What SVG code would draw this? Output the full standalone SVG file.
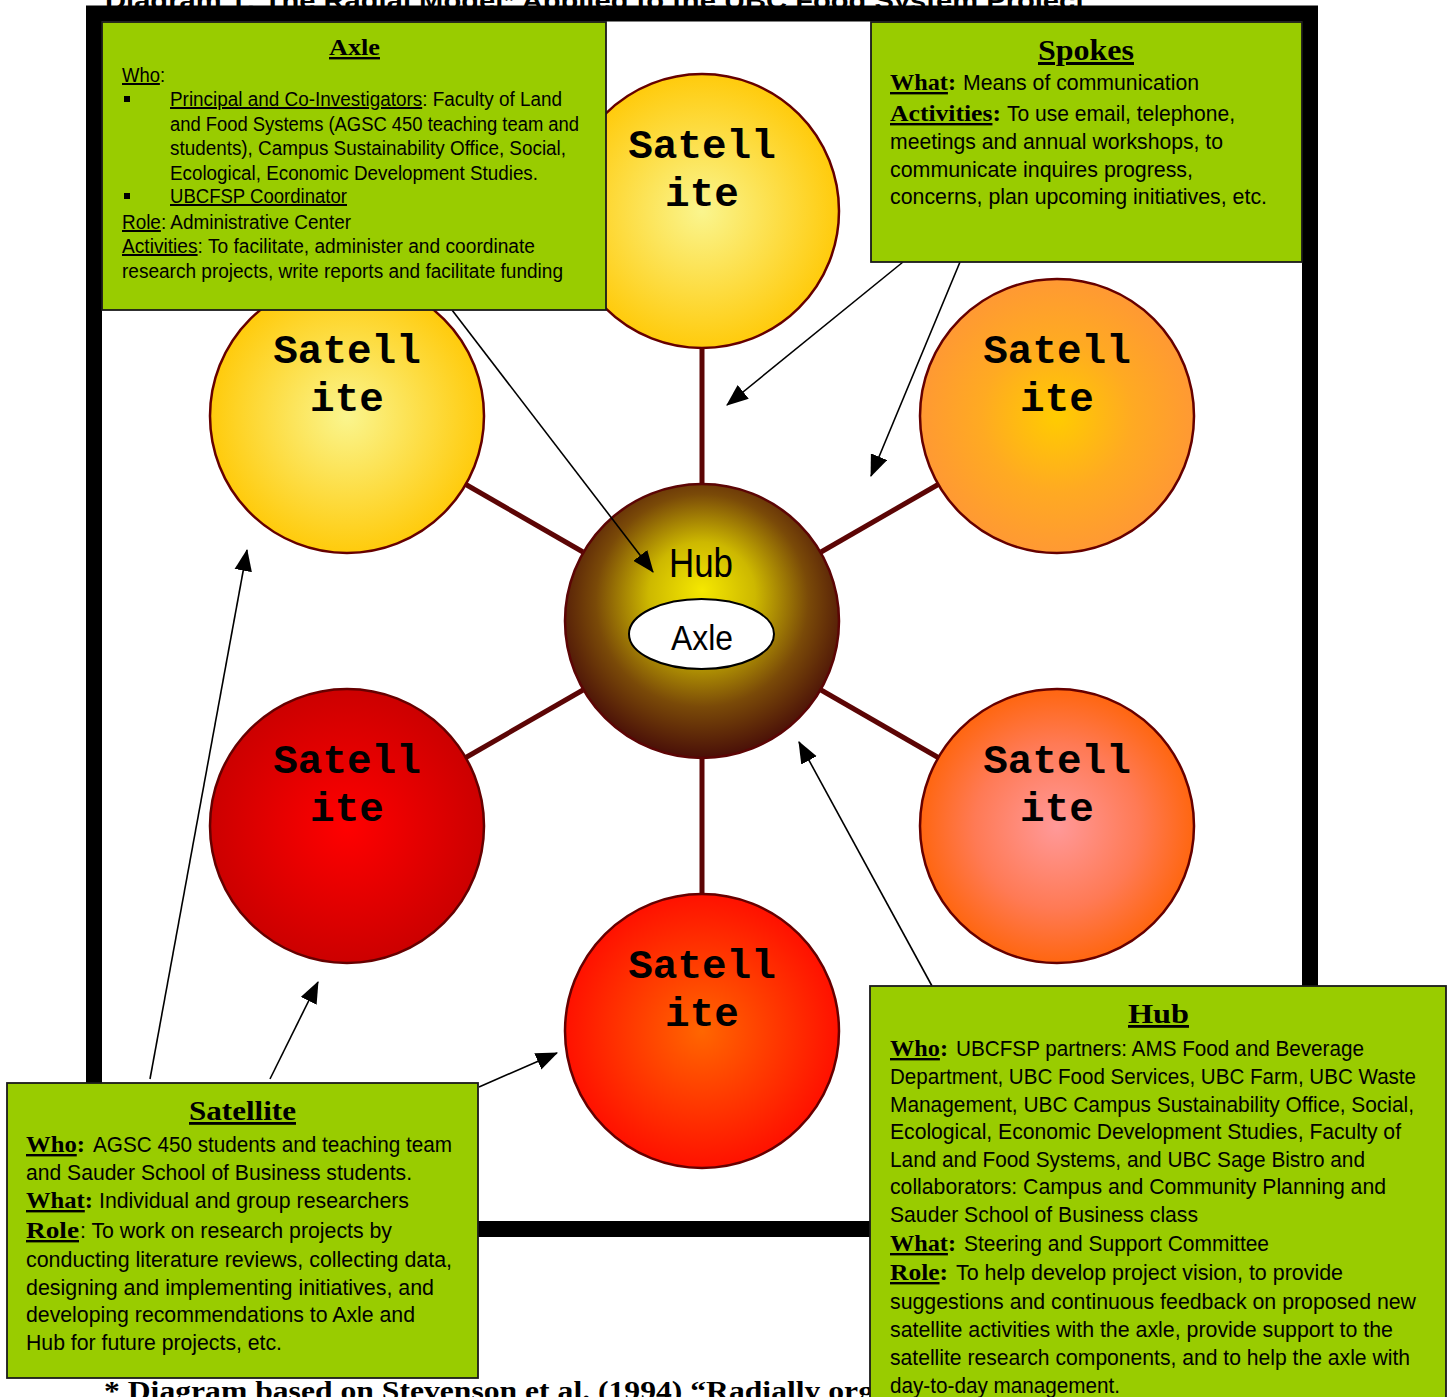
<svg xmlns="http://www.w3.org/2000/svg" width="1450" height="1397" viewBox="0 0 1450 1397">
<style>
.n{font-family:"Liberation Sans Narrow","Liberation Sans",Arial,sans-serif;fill:#000}
.s{font-family:"Liberation Serif","Times New Roman",serif;font-weight:bold;fill:#000}
.m{font-family:"Liberation Mono","Courier New",monospace;font-weight:bold;font-size:41px;text-anchor:middle;fill:#000}
.u{text-decoration:underline}
.box{fill:#99CC00;stroke:#1a1a1a;stroke-width:1.8}
.sat{stroke:#660000;stroke-width:2.5}
.spoke{stroke:#5C0505;stroke-width:5}
.arr{stroke:#000;stroke-width:1.6;fill:none;marker-end:url(#ah)}
.a20{font-size:20px}
.a22{font-size:22px}
</style>
<defs>
<marker id="ah" viewBox="0 0 20 16" refX="19" refY="8" markerWidth="22" markerHeight="18" markerUnits="userSpaceOnUse" orient="auto"><path d="M0,0 L20,8 L0,16 z" fill="#000"/></marker>
<radialGradient id="gY"><stop offset="0" stop-color="#FAF58E"/><stop offset="1" stop-color="#FFCB0C"/></radialGradient>
<radialGradient id="gO"><stop offset="0" stop-color="#FFCC00"/><stop offset="0.55" stop-color="#FFAA22"/><stop offset="1" stop-color="#FF9933"/></radialGradient>
<radialGradient id="gR"><stop offset="0" stop-color="#FF0000"/><stop offset="1" stop-color="#CC0000"/></radialGradient>
<radialGradient id="gP"><stop offset="0" stop-color="#FF9999"/><stop offset="0.6" stop-color="#FF7A55"/><stop offset="1" stop-color="#FF6610"/></radialGradient>
<radialGradient id="gB"><stop offset="0" stop-color="#FF6600"/><stop offset="1" stop-color="#FF1100"/></radialGradient>
<radialGradient id="gH" gradientUnits="userSpaceOnUse" cx="702" cy="605" r="152" fx="702" fy="590"><stop offset="0" stop-color="#F5E800"/><stop offset="0.35" stop-color="#CDB800"/><stop offset="0.7" stop-color="#7A4A08"/><stop offset="1" stop-color="#4A1008"/></radialGradient>
</defs>

<text class="n" x="105" y="9" font-size="24" font-weight="bold" textLength="980" lengthAdjust="spacingAndGlyphs">Diagram 1: The Radial Model* Applied to the UBC Food System Project</text>
<rect id="frame" x="94" y="13.5" width="1216" height="1215.5" fill="none" stroke="#000" stroke-width="16"/>

<g id="spokes">
<line class="spoke" x1="702" y1="348" x2="702" y2="485"/>
<line class="spoke" x1="702" y1="757" x2="702" y2="895"/>
<line class="spoke" x1="465" y1="484" x2="583" y2="552"/>
<line class="spoke" x1="939" y1="484" x2="821" y2="552"/>
<line class="spoke" x1="465" y1="758" x2="583" y2="690"/>
<line class="spoke" x1="939" y1="758" x2="821" y2="690"/>
</g>

<g id="sat-top"><circle class="sat" cx="702" cy="211" r="137" fill="url(#gY)"/><text class="m" x="702" y="158">Satell</text><text class="m" x="702" y="206">ite</text></g>
<g id="sat-ul"><circle class="sat" cx="347" cy="416" r="137" fill="url(#gY)"/><text class="m" x="347" y="363">Satell</text><text class="m" x="347" y="411">ite</text></g>
<g id="sat-ur"><circle class="sat" cx="1057" cy="416" r="137" fill="url(#gO)"/><text class="m" x="1057" y="363">Satell</text><text class="m" x="1057" y="411">ite</text></g>
<g id="sat-ll"><circle class="sat" cx="347" cy="826" r="137" fill="url(#gR)"/><text class="m" x="347" y="773">Satell</text><text class="m" x="347" y="821">ite</text></g>
<g id="sat-lr"><circle class="sat" cx="1057" cy="826" r="137" fill="url(#gP)"/><text class="m" x="1057" y="773">Satell</text><text class="m" x="1057" y="821">ite</text></g>
<g id="sat-bot"><circle class="sat" cx="702" cy="1031" r="137" fill="url(#gB)"/><text class="m" x="702" y="978">Satell</text><text class="m" x="702" y="1026">ite</text></g>

<g id="hub">
<circle cx="702" cy="621" r="137" fill="url(#gH)" stroke="#5C0505" stroke-width="2.5"/>
<text class="n" x="669" y="577" font-size="40" textLength="64" lengthAdjust="spacingAndGlyphs">Hub</text>
<ellipse cx="701.5" cy="634" rx="72.5" ry="35" fill="#fff" stroke="#000" stroke-width="2"/>
<text class="n" x="671" y="650" font-size="35" textLength="62" lengthAdjust="spacingAndGlyphs">Axle</text>
</g>

<g id="connectors">
<line class="arr" x1="452" y1="310" x2="653" y2="572"/>
<line class="arr" x1="903" y1="262" x2="727" y2="405"/>
<line class="arr" x1="960" y1="262" x2="871" y2="476"/>
<line class="arr" x1="150" y1="1079" x2="247" y2="550"/>
<line class="arr" x1="270" y1="1079" x2="318" y2="982"/>
<line class="arr" x1="479" y1="1087" x2="557" y2="1053"/>
<line class="arr" x1="932" y1="986" x2="799" y2="742"/>
</g>

<g id="axle-box">
<rect class="box" x="102" y="22" width="504" height="288"/>
<text class="s u" x="329" y="55" font-size="24" textLength="51" lengthAdjust="spacingAndGlyphs">Axle</text>
<text class="n a20" x="122" y="82" textLength="43" lengthAdjust="spacingAndGlyphs"><tspan class="u">Who</tspan>:</text>
<rect x="124" y="96" width="6" height="6" fill="#000"/>
<text class="n a20" x="170" y="106" textLength="392" lengthAdjust="spacingAndGlyphs"><tspan class="u">Principal and Co-Investigators</tspan>: Faculty of Land</text>
<text class="n a20" x="170" y="131" textLength="409" lengthAdjust="spacingAndGlyphs">and Food Systems (AGSC 450 teaching team and</text>
<text class="n a20" x="170" y="155" textLength="396" lengthAdjust="spacingAndGlyphs">students), Campus Sustainability Office, Social,</text>
<text class="n a20" x="170" y="180" textLength="368" lengthAdjust="spacingAndGlyphs">Ecological, Economic Development Studies.</text>
<rect x="124" y="193" width="6" height="6" fill="#000"/>
<text class="n a20 u" x="170" y="203" textLength="177" lengthAdjust="spacingAndGlyphs">UBCFSP Coordinator</text>
<text class="n a20" x="122" y="229" textLength="229" lengthAdjust="spacingAndGlyphs"><tspan class="u">Role</tspan>: Administrative Center</text>
<text class="n a20" x="122" y="253" textLength="413" lengthAdjust="spacingAndGlyphs"><tspan class="u">Activities</tspan>: To facilitate, administer and coordinate</text>
<text class="n a20" x="122" y="278" textLength="441" lengthAdjust="spacingAndGlyphs">research projects, write reports and facilitate funding</text>
</g>

<g id="spokes-box">
<rect class="box" x="871" y="22" width="431" height="240"/>
<text class="s u" x="1038" y="60" font-size="30" textLength="96" lengthAdjust="spacingAndGlyphs">Spokes</text>
<text class="s" x="890" y="90" font-size="24" textLength="66" lengthAdjust="spacingAndGlyphs"><tspan class="u">What</tspan>:</text>
<text class="n a22" x="963" y="90" textLength="236" lengthAdjust="spacingAndGlyphs">Means of communication</text>
<text class="s" x="890" y="121" font-size="24" textLength="111" lengthAdjust="spacingAndGlyphs"><tspan class="u">Activities</tspan>:</text>
<text class="n a22" x="1007" y="121" textLength="228" lengthAdjust="spacingAndGlyphs">To use email, telephone,</text>
<text class="n a22" x="890" y="149" textLength="333" lengthAdjust="spacingAndGlyphs">meetings and annual workshops, to</text>
<text class="n a22" x="890" y="177" textLength="303" lengthAdjust="spacingAndGlyphs">communicate inquires progress,</text>
<text class="n a22" x="890" y="204" textLength="377" lengthAdjust="spacingAndGlyphs">concerns, plan upcoming initiatives, etc.</text>
</g>

<g id="satellite-box">
<rect class="box" x="7" y="1083" width="471" height="295"/>
<text class="s u" x="189" y="1120" font-size="28" textLength="107" lengthAdjust="spacingAndGlyphs">Satellite</text>
<text class="s" x="26" y="1152" font-size="24" textLength="59" lengthAdjust="spacingAndGlyphs"><tspan class="u">Who</tspan>:</text>
<text class="n a22" x="93" y="1152" textLength="359" lengthAdjust="spacingAndGlyphs">AGSC 450 students and teaching team</text>
<text class="n a22" x="26" y="1180" textLength="386" lengthAdjust="spacingAndGlyphs">and Sauder School of Business students.</text>
<text class="s" x="26" y="1208" font-size="24" textLength="67" lengthAdjust="spacingAndGlyphs"><tspan class="u">What</tspan>:</text>
<text class="n a22" x="99" y="1208" textLength="310" lengthAdjust="spacingAndGlyphs">Individual and group researchers</text>
<text class="s u" x="26" y="1238" font-size="24" textLength="53" lengthAdjust="spacingAndGlyphs">Role</text>
<text class="n a22" x="80" y="1238" textLength="312" lengthAdjust="spacingAndGlyphs">: To work on research projects by</text>
<text class="n a22" x="26" y="1267" textLength="426" lengthAdjust="spacingAndGlyphs">conducting literature reviews, collecting data,</text>
<text class="n a22" x="26" y="1295" textLength="408" lengthAdjust="spacingAndGlyphs">designing and implementing initiatives, and</text>
<text class="n a22" x="26" y="1322" textLength="389" lengthAdjust="spacingAndGlyphs">developing recommendations to Axle and</text>
<text class="n a22" x="26" y="1350" textLength="256" lengthAdjust="spacingAndGlyphs">Hub for future projects, etc.</text>
</g>

<text class="s" x="104" y="1400" font-size="27" textLength="770" lengthAdjust="spacingAndGlyphs">* Diagram based on Stevenson et al. (1994) “Radially org</text>

<g id="hub-box">
<rect class="box" x="870" y="986" width="576" height="430"/>
<text class="s u" x="1128" y="1023" font-size="28" textLength="61" lengthAdjust="spacingAndGlyphs">Hub</text>
<text class="s" x="890" y="1056" font-size="24" textLength="58" lengthAdjust="spacingAndGlyphs"><tspan class="u">Who</tspan>:</text>
<text class="n a22" x="956" y="1056" textLength="408" lengthAdjust="spacingAndGlyphs">UBCFSP partners: AMS Food and Beverage</text>
<text class="n a22" x="890" y="1084" textLength="526" lengthAdjust="spacingAndGlyphs">Department, UBC Food Services, UBC Farm, UBC Waste</text>
<text class="n a22" x="890" y="1112" textLength="524" lengthAdjust="spacingAndGlyphs">Management, UBC Campus Sustainability Office, Social,</text>
<text class="n a22" x="890" y="1139" textLength="511" lengthAdjust="spacingAndGlyphs">Ecological, Economic Development Studies, Faculty of</text>
<text class="n a22" x="890" y="1167" textLength="475" lengthAdjust="spacingAndGlyphs">Land and Food Systems, and UBC Sage Bistro and</text>
<text class="n a22" x="890" y="1194" textLength="496" lengthAdjust="spacingAndGlyphs">collaborators: Campus and Community Planning and</text>
<text class="n a22" x="890" y="1222" textLength="308" lengthAdjust="spacingAndGlyphs">Sauder School of Business class</text>
<text class="s" x="890" y="1251" font-size="24" textLength="66" lengthAdjust="spacingAndGlyphs"><tspan class="u">What</tspan>:</text>
<text class="n a22" x="964" y="1251" textLength="305" lengthAdjust="spacingAndGlyphs">Steering and Support Committee</text>
<text class="s" x="890" y="1280" font-size="24" textLength="58" lengthAdjust="spacingAndGlyphs"><tspan class="u">Role</tspan>:</text>
<text class="n a22" x="956" y="1280" textLength="387" lengthAdjust="spacingAndGlyphs">To help develop project vision, to provide</text>
<text class="n a22" x="890" y="1309" textLength="526" lengthAdjust="spacingAndGlyphs">suggestions and continuous feedback on proposed new</text>
<text class="n a22" x="890" y="1337" textLength="503" lengthAdjust="spacingAndGlyphs">satellite activities with the axle, provide support to the</text>
<text class="n a22" x="890" y="1365" textLength="520" lengthAdjust="spacingAndGlyphs">satellite research components, and to help the axle with</text>
<text class="n a22" x="890" y="1393" textLength="230" lengthAdjust="spacingAndGlyphs">day-to-day management.</text>
</g>
</svg>
